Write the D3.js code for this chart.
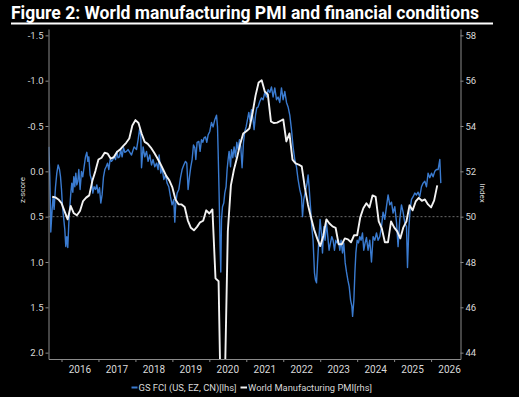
<!DOCTYPE html>
<html>
<head>
<meta charset="utf-8">
<script src="https://cdn.jsdelivr.net/npm/d3@7"></script>
<style>
  body { margin: 0; background: #000; }
  text { font-family: Roboto, "Open Sans", sans-serif; }
</style>
</head>
<body>
<div id="canvas"></div>
<script>
// ////////// DATA /////////////

// GS FCI (US, EZ, CN), z-score, plotted on the inverted left axis
var fciYear = [
  2015.656, 2015.683, 2015.702, 2015.710, 2015.746, 2015.773, 2015.800, 2015.838, 2015.873, 2015.908, 2015.946, 2015.973,
  2016.000, 2016.027, 2016.062, 2016.089, 2016.116, 2016.143, 2016.170, 2016.198, 2016.225, 2016.252, 2016.279, 2016.306,
  2016.333, 2016.360, 2016.387, 2016.414, 2016.441, 2016.468, 2016.503, 2016.541, 2016.576, 2016.611, 2016.649, 2016.685,
  2016.712, 2016.739, 2016.774, 2016.812, 2016.847, 2016.882, 2016.920, 2016.955, 2016.990, 2017.028, 2017.063, 2017.098,
  2017.136, 2017.172, 2017.207, 2017.245, 2017.280, 2017.315, 2017.353, 2017.388, 2017.423, 2017.461, 2017.496, 2017.531,
  2017.569, 2017.604, 2017.640, 2017.678, 2017.713, 2017.759, 2017.802, 2017.894, 2017.964, 2018.029, 2018.073, 2018.118,
  2018.146, 2018.165, 2018.208, 2018.254, 2018.300, 2018.343, 2018.389, 2018.435, 2018.478, 2018.524, 2018.570, 2018.614,
  2018.641, 2018.687, 2018.722, 2018.768, 2018.814, 2018.857, 2018.903, 2018.949, 2018.992, 2019.038, 2019.065, 2019.093,
  2019.128, 2019.174, 2019.220, 2019.263, 2019.309, 2019.355, 2019.390, 2019.425, 2019.463, 2019.498, 2019.534, 2019.571,
  2019.607, 2019.634, 2019.669, 2019.715, 2019.750, 2019.788, 2019.823, 2019.858, 2019.896, 2019.931, 2019.966, 2020.012,
  2020.058, 2020.102, 2020.148, 2020.194, 2020.221, 2020.237, 2020.264, 2020.291, 2020.310, 2020.329, 2020.356, 2020.391,
  2020.418, 2020.453, 2020.481, 2020.508, 2020.535, 2020.573, 2020.600, 2020.635, 2020.670, 2020.708, 2020.743, 2020.778,
  2020.816, 2020.851, 2020.886, 2020.924, 2020.959, 2020.995, 2021.032, 2021.068, 2021.103, 2021.141, 2021.184, 2021.211,
  2021.249, 2021.284, 2021.319, 2021.365, 2021.411, 2021.455, 2021.501, 2021.547, 2021.590, 2021.636, 2021.682, 2021.725,
  2021.771, 2021.817, 2021.860, 2021.906, 2021.952, 2021.996, 2022.042, 2022.088, 2022.131, 2022.177, 2022.223, 2022.266,
  2022.312, 2022.358, 2022.401, 2022.447, 2022.494, 2022.521, 2022.556, 2022.610, 2022.645, 2022.672, 2022.699, 2022.737,
  2022.772, 2022.807, 2022.845, 2022.872, 2022.900, 2022.927, 2022.962, 2022.997, 2023.035, 2023.062, 2023.097, 2023.132,
  2023.170, 2023.205, 2023.240, 2023.278, 2023.313, 2023.348, 2023.386, 2023.421, 2023.457, 2023.494, 2023.530, 2023.565,
  2023.603, 2023.638, 2023.676, 2023.711, 2023.749, 2023.784, 2023.822, 2023.857, 2023.876, 2023.911, 2023.938, 2023.965,
  2024.000, 2024.036, 2024.071, 2024.106, 2024.144, 2024.179, 2024.215, 2024.252, 2024.295, 2024.341, 2024.387, 2024.431,
  2024.477, 2024.523, 2024.566, 2024.612, 2024.658, 2024.701, 2024.747, 2024.793, 2024.837, 2024.883, 2024.929, 2024.972,
  2025.018, 2025.064, 2025.107, 2025.153, 2025.199, 2025.243, 2025.289, 2025.335, 2025.362, 2025.397, 2025.432, 2025.470,
  2025.513, 2025.559, 2025.605, 2025.648, 2025.694, 2025.740, 2025.784, 2025.830, 2025.876, 2025.919, 2025.965, 2026.011,
  2026.054, 2026.100, 2026.146, 2026.190, 2026.236, 2026.263
]

var fciZ = [
  -0.27, 0.06, 0.42, 0.67, 0.42, 0.28, 0.42, 0.17, 0.02, -0.07, -0.02, 0.06,
  0.20, 0.39, 0.53, 0.64, 0.83, 0.72, 0.84, 0.57, 0.39, 0.24, 0.13, 0.23,
  0.06, 0.17, 0.02, 0.15, 0.11, -0.02, 0.20, 0.00, 0.06, -0.05, -0.16, -0.21,
  -0.11, -0.16, 0.04, 0.09, 0.24, 0.17, 0.20, 0.15, 0.24, 0.18, 0.35, 0.26,
  0.06, -0.02, -0.05, -0.09, -0.02, -0.13, -0.11, -0.13, -0.16, -0.13, -0.22, -0.15,
  -0.16, -0.24, -0.16, -0.26, -0.21, -0.22, -0.24, -0.18, -0.27, -0.24, -0.35, -0.48,
  -0.38, -0.04, -0.27, -0.16, -0.22, -0.11, -0.18, -0.07, -0.13, -0.05, -0.09, -0.02,
  -0.18, 0.02, -0.04, 0.09, 0.04, 0.13, 0.17, 0.28, 0.37, 0.31, 0.56, 0.35,
  0.24, 0.20, 0.07, -0.02, -0.07, -0.11, -0.09, 0.20, 0.06, -0.05, -0.13, -0.29,
  -0.26, -0.13, -0.32, -0.33, -0.22, -0.35, -0.32, -0.37, -0.38, -0.32, -0.40, -0.44,
  -0.54, -0.49, -0.57, -0.62, -0.49, -0.24, 0.24, 0.83, 1.11, 0.53, 0.39, 0.35,
  0.24, 0.17, -0.02, -0.13, -0.22, -0.05, -0.24, -0.15, -0.27, -0.16, -0.32, -0.24,
  -0.35, -0.27, -0.04, -0.32, -0.44, -0.49, -0.57, -0.65, -0.55, -0.68, -0.57, -0.46,
  -0.62, -0.70, -0.71, -0.77, -0.81, -0.79, -0.87, -0.82, -0.90, -0.87, -0.93, -0.82,
  -0.92, -0.79, -0.82, -0.76, -0.92, -0.79, -0.88, -0.76, -0.71, -0.62, -0.46, -0.27,
  -0.13, -0.05, 0.09, 0.20, 0.28, 0.50, 0.31, 0.20, 0.13, 0.04, 0.17, 0.39,
  0.61, 0.76, 1.12, 1.20, 1.23, 1.01, 0.76, 0.53, 0.70, 0.90, 0.61, 0.76,
  0.57, 0.72, 0.87, 0.79, 0.72, 0.76, 0.87, 0.76, 0.79, 0.76, 0.87, 0.76,
  0.90, 0.79, 1.01, 1.11, 1.20, 1.27, 1.42, 1.49, 1.60, 1.42, 1.12, 0.90,
  0.76, 0.79, 0.72, 0.76, 0.68, 0.87, 0.79, 0.73, 0.87, 0.76, 1.00, 0.72,
  0.76, 0.68, 0.76, 0.72, 0.61, 0.45, 0.53, 0.39, 0.26, 0.37, 0.34, 0.46,
  0.39, 0.56, 0.83, 0.53, 0.37, 0.45, 0.57, 0.61, 1.06, 0.64, 0.42, 0.31,
  0.28, 0.24, 0.26, 0.23, 0.28, 0.17, 0.13, 0.11, 0.17, 0.02, 0.07, 0.02,
  0.06, 0.00, -0.02, -0.02, -0.13, 0.13
]

// World Manufacturing PMI, monthly from Oct 2015 (right axis)
var pmiStart = [2015, 10]
var pmiValues = [
  50.88, 50.85, 50.76,
  50.60, 50.23, 49.88, 50.47, 50.15, 50.06, 50.25, 50.69, 50.84, 50.94, 51.57, 52.01,
  52.52, 52.60, 52.82, 52.78, 52.56, 52.63, 52.85, 52.96, 53.11, 53.26, 53.45, 54.02,
  54.26, 54.13, 53.67, 53.30, 53.21, 53.05, 52.84, 52.61, 52.36, 52.08, 51.80, 51.60,
  51.29, 50.76, 50.55, 50.54, 50.43, 49.84, 49.51, 49.40, 49.55, 49.75, 49.82, 50.28,
  50.14, 50.32, 47.28, 47.15, 39.60, 42.40, 49.35, 51.38, 52.08, 52.61, 53.19, 53.67,
  53.77, 53.89, 54.55, 55.34, 55.92, 56.02, 55.52, 55.39, 54.20, 54.13, 54.15, 54.22,
  54.29, 53.32, 53.67, 52.52, 52.35, 52.30, 52.22, 51.29, 50.54, 49.97, 49.44, 49.04,
  48.70, 49.15, 49.88, 49.70, 49.57, 49.51, 48.78, 48.78, 49.04, 49.00, 48.87, 49.18,
  49.18, 49.97, 50.37, 50.59, 50.41, 50.94, 50.87, 49.79, 49.48, 48.87, 48.87, 49.79,
  49.53, 49.35, 49.04, 49.53, 49.79, 50.50, 50.28, 50.67, 50.83, 50.70, 50.76, 50.54,
  50.41, 50.72, 51.38
]

var leftTicks = [-1.5, -1.0, -0.5, 0.0, 0.5, 1.0, 1.5, 2.0]
var rightTicks = [44, 46, 48, 50, 52, 54, 56, 58]
var yearTicks = [2016, 2017, 2018, 2019, 2020, 2021, 2022, 2023, 2024, 2025, 2026]

var titleText = "Figure 2: World manufacturing PMI and financial conditions"
var fciLabel = "GS FCI (US, EZ, CN)[lhs]"
var pmiLabel = "World Manufacturing PMI[rhs]"


///////// GLOBAL VARS //////////

var width = 519,
  height = 397,
  plot = { left: 48.5, right: 460.5, top: 29, bottom: 359 }

var blue = "#3a7bd0",
  white = "#f2f2f2",
  axisGrey = "#8a8a8a",
  labelGrey = "#d9d9d9"

var svg = d3.select("#canvas")
  .append("svg")
  .attr("width", width)
  .attr("height", height)
  .style("background-color", "#000")

// x scale in decimal years
var x = d3.scaleLinear()
  .domain([2015.648, 2026.796])
  .range([plot.left, plot.right])

// left: FCI z-score, inverted (easier conditions at the top)
var yL = d3.scaleLinear()
  .domain([-1.57, 2.07])
  .range([plot.top, plot.bottom])

// right: PMI index
var yR = d3.scaleLinear()
  .domain([58.28, 43.72])
  .range([plot.top, plot.bottom])

var fciData = fciYear.map((t, i) => ({ t: t, v: fciZ[i] }))
var pmiData = pmiValues.map((v, i) => ({ t: pmiStart[0] + (pmiStart[1] - 1 + i) / 12, v: v }))


// title + rule
svg.append("text")
  .attr("x", 11)
  .attr("y", 18.5)
  .attr("fill", "#fff")
  .attr("font-size", 18)
  .attr("font-weight", "bold")
  .attr("textLength", 468)
  .attr("lengthAdjust", "spacingAndGlyphs")
  .text(titleText)

svg.append("line")
  .attr("x1", 11)
  .attr("x2", 493)
  .attr("y1", 23.5)
  .attr("y2", 23.5)
  .attr("stroke", "#fff")
  .attr("stroke-width", 2)

svg.append("clipPath")
  .attr("id", "plotclip")
  .append("rect")
  .attr("x", plot.left)
  .attr("y", plot.top)
  .attr("width", plot.right - plot.left)
  .attr("height", plot.bottom - plot.top)

// dotted reference line at 0.5 / 50
svg.append("line")
  .attr("x1", plot.left)
  .attr("x2", plot.right)
  .attr("y1", yL(0.5))
  .attr("y2", yL(0.5))
  .attr("stroke", "#9a9a9a")
  .attr("stroke-width", 0.7)
  .attr("stroke-dasharray", "2,2")

// lines
var lines = svg.append("g").attr("clip-path", "url(#plotclip)")

lines.append("path")
  .datum(fciData)
  .attr("fill", "none")
  .attr("stroke", blue)
  .attr("stroke-width", 1.4)
  .attr("stroke-linejoin", "round")
  .attr("d", d3.line().x(d => x(d.t)).y(d => yL(d.v)))

lines.append("path")
  .datum(pmiData)
  .attr("fill", "none")
  .attr("stroke", white)
  .attr("stroke-width", 1.9)
  .attr("stroke-linejoin", "round")
  .attr("d", d3.line().x(d => x(d.t)).y(d => yR(d.v)))


// axes
function styleAxis(g, fontSize) {
  g.select(".domain").attr("stroke", axisGrey)
  g.selectAll(".tick line").attr("stroke", axisGrey)
  g.selectAll(".tick text")
    .attr("fill", labelGrey)
    .attr("font-size", fontSize)
    .attr("font-family", "Roboto, sans-serif")
}

svg.append("g")
  .attr("transform", `translate(${plot.left},0)`)
  .call(d3.axisLeft(yL).tickValues(leftTicks).tickFormat(d => d.toFixed(1))
    .tickSize(3).tickSizeOuter(0).tickPadding(2))
  .call(g => styleAxis(g, 9.5))

svg.append("g")
  .attr("transform", `translate(${plot.right},0)`)
  .call(d3.axisRight(yR).tickValues(rightTicks).tickSize(3).tickSizeOuter(0).tickPadding(2))
  .call(g => styleAxis(g, 9.5))

svg.append("g")
  .attr("transform", `translate(0,${plot.bottom})`)
  .call(d3.axisBottom(x).tickValues(yearTicks).tickFormat("").tickSize(3).tickSizeOuter(0))
  .call(g => styleAxis(g, 10))

// year labels sit between the year ticks
svg.selectAll(".yearlabel")
  .data(yearTicks)
  .join("text")
  .attr("class", "yearlabel")
  .attr("x", d => x(d + 0.5))
  .attr("y", 372.5)
  .attr("text-anchor", "middle")
  .attr("fill", labelGrey)
  .attr("font-size", 10)
  .text(d => d)

// axis titles
svg.append("text")
  .attr("transform", "translate(24.5,190) rotate(-90)")
  .attr("text-anchor", "middle")
  .attr("fill", labelGrey)
  .attr("font-size", 8)
  .text("z-score")

svg.append("text")
  .attr("transform", "translate(480,193) rotate(90)")
  .attr("text-anchor", "middle")
  .attr("fill", labelGrey)
  .attr("font-size", 8)
  .text("Index")


/////// LEGEND ///////
var legend = svg.append("g").attr("transform", "translate(0,387.5)")

legend.append("line")
  .attr("x1", 131.5).attr("x2", 137.5)
  .attr("stroke", blue).attr("stroke-width", 2)

legend.append("text")
  .attr("x", 138.5).attr("y", 3.2)
  .attr("fill", labelGrey).attr("font-size", 9)
  .attr("textLength", 98).attr("lengthAdjust", "spacingAndGlyphs")
  .text(fciLabel)

legend.append("line")
  .attr("x1", 240.5).attr("x2", 247)
  .attr("stroke", white).attr("stroke-width", 2)

legend.append("text")
  .attr("x", 248).attr("y", 3.2)
  .attr("fill", labelGrey).attr("font-size", 9)
  .attr("textLength", 124).attr("lengthAdjust", "spacingAndGlyphs")
  .text(pmiLabel)
</script>
</body>
</html>
